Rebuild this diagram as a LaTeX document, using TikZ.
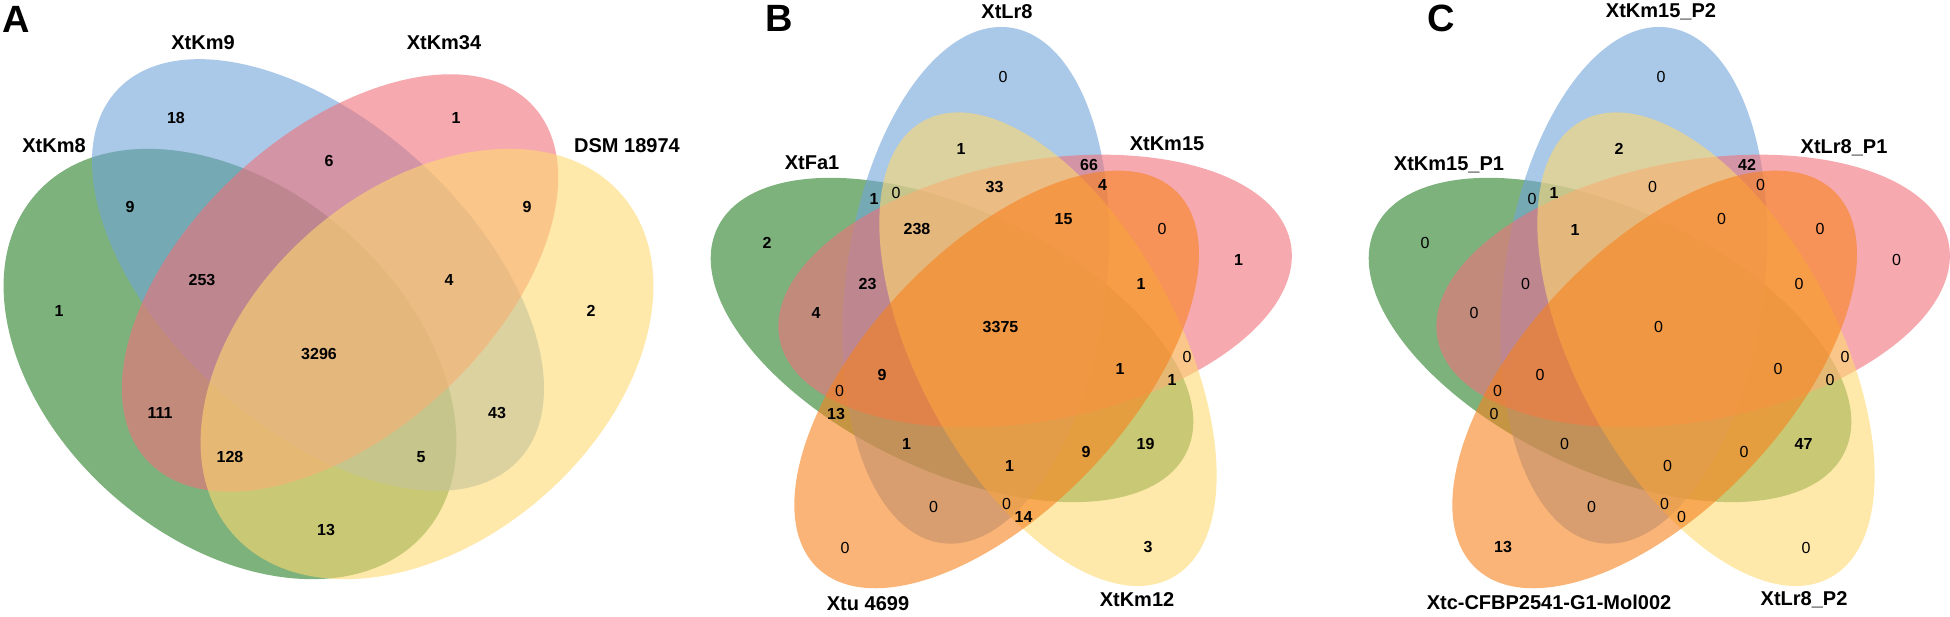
\documentclass[tikz,border=0pt]{standalone}
\usepackage{fontspec}
\setmainfont{Liberation Sans}

\definecolor{vgreen}{RGB}{38,127,38}
\definecolor{vblue}{RGB}{113,163,217}
\definecolor{vred}{RGB}{240,113,122}
\definecolor{vyellow}{RGB}{253,217,113}
\definecolor{vorange}{RGB}{247,130,30}

% zero counts are printed plain, the others bold
\newcommand\vcount[1]{\ifnum#1=0 0\else\textbf{#1}\fi}

\begin{document}
\begin{tikzpicture}[x=1pt, y=1pt,
	venn/.style = {fill=#1, fill opacity=0.6},
	lab/.style = {font=\fontsize{20}{24}\selectfont\bfseries},
	cnt/.style = {font=\fontsize{16}{19}\selectfont},
	panel/.style = {font=\fontsize{38}{44}\selectfont\bfseries}]
	\useasboundingbox (0,0) rectangle (1950,616);

	% A: four sets
	\begin{scope}
		\fill[venn=vgreen, rotate around={-41:(230,252)}] (230,252) ellipse [x radius=258, y radius=176];
		\fill[venn=vblue, rotate around={-42.5:(318,341)}] (318,341) ellipse [x radius=273, y radius=152];
		\fill[venn=vred, rotate around={42.5:(340,333)}] (340,333) ellipse [x radius=262, y radius=150];
		\fill[venn=vyellow, rotate around={41:(427,252)}] (427,252) ellipse [x radius=258, y radius=176];

		\node[panel] (pa) at (16,597) {A};
		\node[lab] (xtkm9) at (203,573) {XtKm9};
		\node[lab] (xtkm34) at (444,573) {XtKm34};
		\node[lab] (xtkm8) at (54,470) {XtKm8};
		\node[lab] (dsm) at (627,470) {DSM 18974};

		\foreach \x/\y/\n [count=\i] in {176/498/18, 456/498/1, 329/455/6, 130/409/9, 527/409/9,
			59/305/1, 591/305/2, 202/336/253, 449/336/4, 319/262/3296, 160/203/111,
			497/203/43, 230/159/128, 421/159/5, 326/86/13}
			\node[cnt] (a\i) at (\x,\y) {\vcount{\n}};
	\end{scope}

	% B and C: five sets, same layout
	\coordinate (ob) at (1001.5,287);
	\coordinate (oc) at (1659.5,287);

	\foreach \o in {ob,oc}{
		\begin{scope}[shift={(\o)}]
			\foreach \k/\c in {4/vgreen, 0/vblue, 1/vred, 2/vyellow, 3/vorange}
				\fill[venn=\c, rotate=-72*\k, shift={(120.5:50.7)}, rotate=82.5] (0,0) ellipse [x radius=260, y radius=130];
		\end{scope}
	}

	\node[panel] (pb) at ([shift={(-222.5,311)}]ob) {B};
	\node[lab] (xtlr8) at ([shift={(5.5,317)}]ob) {XtLr8};
	\node[lab] (xtkm15) at ([shift={(165.5,185)}]ob) {XtKm15};
	\node[lab] (xtfa1) at ([shift={(-189.5,166)}]ob) {XtFa1};
	\node[lab] (xtu) at ([shift={(-133.5,-275)}]ob) {Xtu 4699};
	\node[lab] (xtkm12) at ([shift={(135.5,-271)}]ob) {XtKm12};

	\node[panel] (pc) at ([shift={(-218.5,311)}]oc) {C};
	\node[lab] (xtkm15p2) at ([shift={(1.5,317)}]oc) {XtKm15\_P2};
	\node[lab] (xtlr8p1) at ([shift={(184.5,181)}]oc) {XtLr8\_P1};
	\node[lab] (xtkm15p1) at ([shift={(-210.5,164)}]oc) {XtKm15\_P1};
	\node[lab] (xtc) at ([shift={(-110.5,-273)}]oc) {Xtc-CFBP2541-G1-Mol002};
	\node[lab] (xtlr8p2) at ([shift={(144.5,-271)}]oc) {XtLr8\_P2};

	% counts: offset from the centre / value in B / value in C
	\foreach \x/\y/\p/\q [count=\i] in {1.5/252/0/0, -40.5/180/1/2, 87.5/164/66/42, 101/144/4/0,
		-7/142/33/0, -127.5/130.5/1/0, -105.5/136.5/0/1, -84.5/99.5/238/1, 62/110/15/0,
		160.5/100/0/0, -234.5/86/2/0, 237/69/1/0, -134/45/23/0, 139.5/45/1/0, -185.5/16/4/0,
		-1/2/3375/0, 185.5/-27.5/0/0, 118.5/-39.5/1/0, 170.5/-50.5/1/0, -119.5/-46/9/0,
		-162/-62/0/0, -165.5/-85/13/0, -95/-115/1/0, 144/-115/19/47, 84.5/-122.5/9/0,
		8/-136.5/1/0, -68/-177.5/0/0, 5/-175/0/0, 22/-187.5/14/0, -156.5/-218.5/0/13,
		146.5/-218.5/3/0}{
		\node[cnt] (b\i) at ([shift={(\x,\y)}]ob) {\vcount{\p}};
		\node[cnt] (c\i) at ([shift={(\x,\y)}]oc) {\vcount{\q}};
	}
\end{tikzpicture}
\end{document}
